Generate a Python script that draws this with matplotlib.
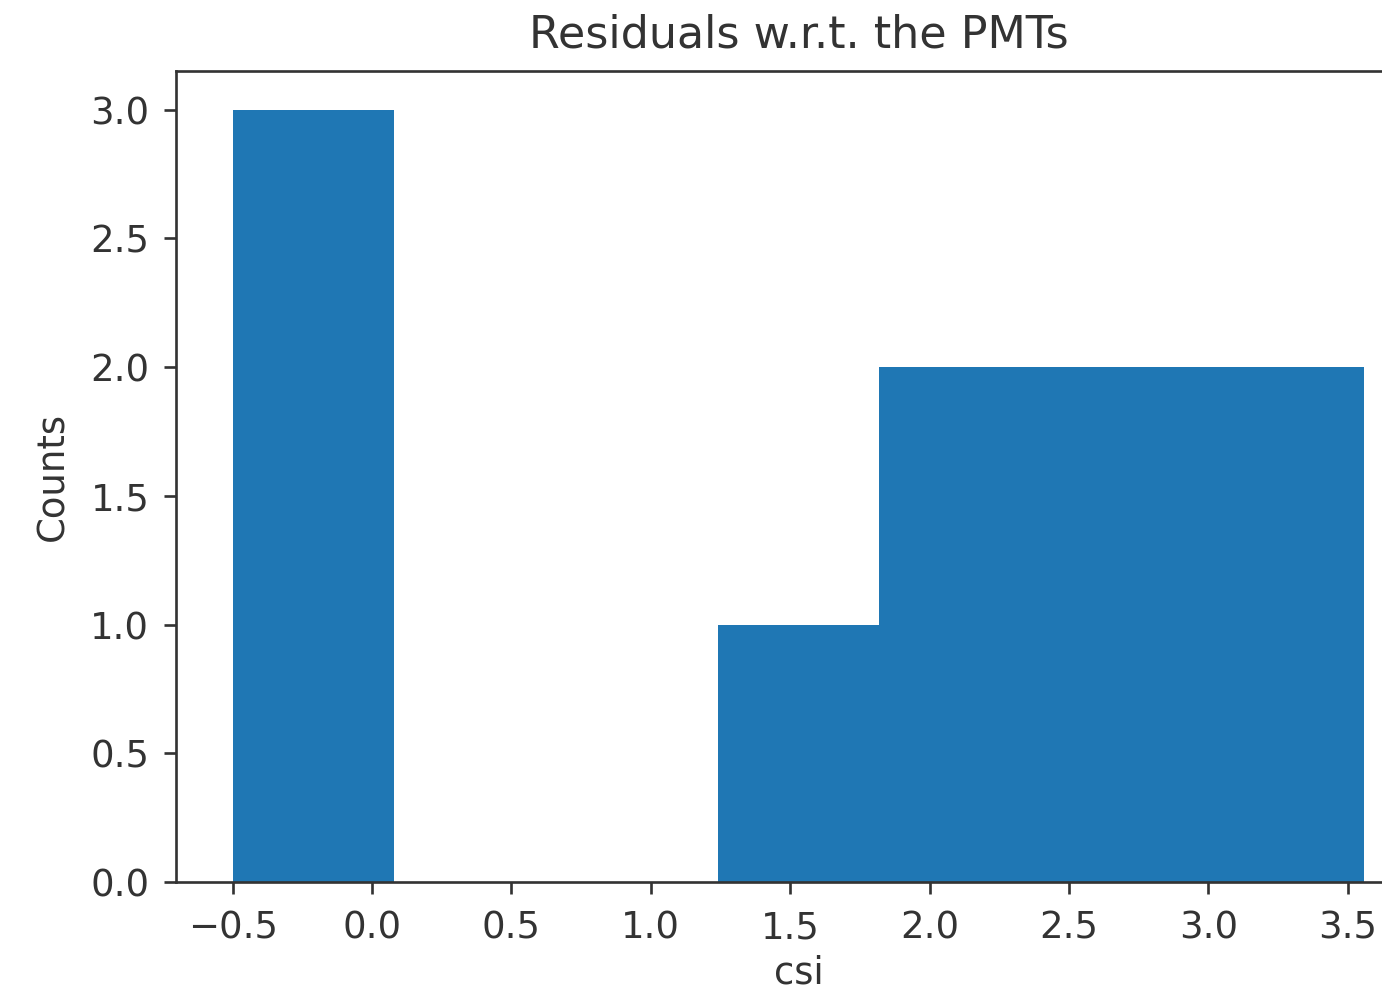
import matplotlib
matplotlib.use("Agg")
import matplotlib.pyplot as plt

# histogram of the residuals (bin edges and counts per bin)
bin_edges = [-0.5, 0.08, 0.66, 1.24, 1.82, 2.40, 2.98, 3.56]
counts = [3, 0, 0, 1, 2, 2, 2]
bin_centers = [(a + b) / 2 for a, b in zip(bin_edges[:-1], bin_edges[1:])]

ink = "#333333"
plt.rcParams.update({
    "font.size": 11.1,
    "text.color": ink,
    "axes.labelcolor": ink,
    "axes.edgecolor": ink,
    "xtick.color": ink,
    "ytick.color": ink,
    "axes.titlesize": 13.3,
    "xtick.major.pad": 4.8,
    "ytick.major.pad": 4.5,
})

dpi = 240
fig = plt.figure(figsize=(1382 / dpi, 997 / dpi), dpi=dpi)
# the axes run past the right edge of the canvas
ax = fig.add_axes([176 / 1382, 1 - 882 / 997, 1245 / 1382, 811 / 997])

ax.hist(bin_centers, bins=bin_edges, weights=counts, color="#1f77b4")
ax.set_title("Residuals w.r.t. the PMTs", pad=7)
ax.set_xlabel("csi", labelpad=2.5)
ax.set_ylabel("Counts", labelpad=5.5)

fig.savefig("out.png", dpi=dpi)
